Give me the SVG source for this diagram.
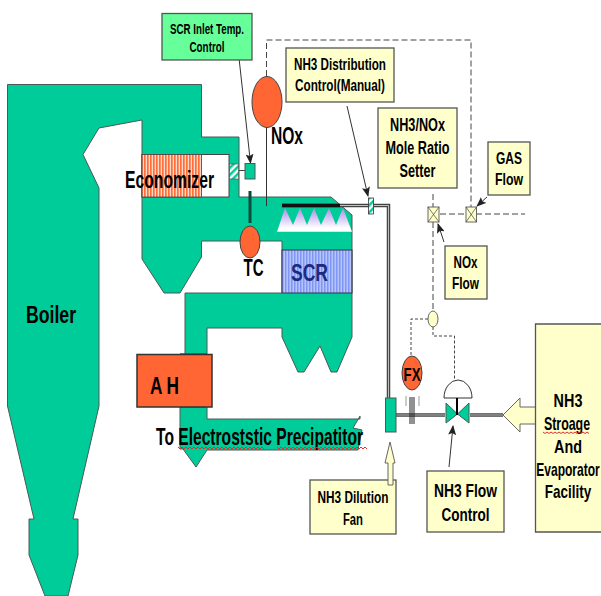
<svg xmlns="http://www.w3.org/2000/svg" width="601" height="596" viewBox="0 0 601 596">
<style>
.t{font-family:"Liberation Sans",Arial,sans-serif;font-weight:bold;fill:#000;text-anchor:middle}
.g{fill:#00cc99;stroke:#4a5a55;stroke-width:1}
.y{fill:#ffffcc;stroke:#555;stroke-width:1.3}
.o{fill:#ff6633;stroke:#444;stroke-width:1}
.d{fill:none;stroke:#444;stroke-width:1;stroke-dasharray:6 3}
.a{fill:none;stroke:#333;stroke-width:1;marker-end:url(#ah)}
.p{fill:none;stroke:#444;stroke-width:3.500}
.pi{fill:none;stroke:#ddd;stroke-width:.8}
.w{fill:none;stroke:#e03030;stroke-width:1}
.v{fill:#ffffcc;stroke:#666;stroke-width:1}
.x{fill:none;stroke:#444;stroke-width:.7}
</style>
<defs>
<marker id="ah" markerWidth="10" markerHeight="8" refX="9" refY="4" orient="auto" markerUnits="userSpaceOnUse"><path d="M0 0L10 4L0 8L2 4Z" fill="#222"/></marker>
<pattern id="orange" width="3" height="10" patternUnits="userSpaceOnUse"><rect width="3" height="10" fill="#ffd9c8"/><rect width="1.7" height="10" fill="#ff6f3c"/></pattern>
<pattern id="blue" width="3" height="10" patternUnits="userSpaceOnUse"><rect width="3" height="10" fill="#b5c4ff"/><rect width="1.5" height="10" fill="#7f97f2"/></pattern>
<pattern id="hatch" width="5" height="5" patternUnits="userSpaceOnUse" patternTransform="rotate(45)"><rect width="5" height="5" fill="#fff"/><rect width="2.5" height="5" fill="#00cc99"/></pattern>
<linearGradient id="cat" x1="0" y1="0" x2="0" y2="1"><stop offset="0" stop-color="#a98ce8"/><stop offset=".85" stop-color="#fff"/></linearGradient>
</defs>

<g id="boiler">
<path class="g" d="M7.500 84.500H201.500V137H239V197H331L352 215V337L337 372H331L320 346L304 372H298L282 337V328H207V354H180V354H207V419H360V416L353 428L362 430L358 450H207L196 467L183 449H180V407H207V354H185V293H282V241H201.500V257L180 293H164L142 259V120L99 128L83 154.500L99 188V406L73 519H78V555L68 596H45L29 555V519H34L7.500 406Z"/>
<text class="t" x="51" y="323" font-size="24" textLength="50" lengthAdjust="spacingAndGlyphs">Boiler</text>
</g>

<g id="economizer">
<rect x="142" y="154.500" width="87" height="42.500" fill="#fff" stroke="#444"/>
<rect x="142" y="154.500" width="59.500" height="42.500" fill="url(#orange)" stroke="#444" stroke-width=".8"/>
<text class="t" x="169.500" y="188" font-size="23" textLength="89" lengthAdjust="spacingAndGlyphs">Economizer</text>
</g>

<g id="scr">
<rect x="282" y="250" width="70" height="43" fill="url(#blue)" stroke="#334" stroke-width="1"/>
<text class="t" x="309.500" y="281" font-size="24" style="fill:#1a2a80" textLength="37" lengthAdjust="spacingAndGlyphs">SCR</text>
</g>

<g id="catalyst">
<path fill="url(#cat)" d="M277 231.700L285 208L293 225L300 208L307 225L314 208L321 225L329 208L336 225L343 208L352 231.700Z"/>
</g>

<g id="connectors">
<path class="d" d="M266.500 76V40H471V207"/>
<path class="d" d="M440 214H466M476 214H525"/>
<path class="d" d="M433 194V207M433 222V311"/>
<path class="d" style="stroke-dasharray:3 2" d="M428 319H411V357"/>
<path class="d" style="stroke-dasharray:3 2" d="M433 327V336H454.500V380"/>
<path d="M266.500 127V206" stroke="#333" stroke-width="1" fill="none"/>
<path d="M239 170.500H245" stroke="#444" fill="none"/>
<path d="M250 191V223" stroke="#0b4a3c" stroke-width="3" fill="none"/>
<path class="p" d="M282 205.500H388.500V398"/>
<path d="M282 205.500H340" fill="none" stroke="#111" stroke-width="3.500"/>
<path class="pi" d="M340 205.500H388.500V398"/>
<path class="p" d="M396 415H445M470 415H503"/>
<path class="pi" d="M396 415H445M470 415H503"/>
<path d="M410 397V424M412 397V424M414 397V424" stroke="#222" stroke-width="1" fill="none"/>
<path d="M406 396V406M419 396V406" stroke="#999" stroke-width="1" fill="none"/>
<path class="a" d="M239 58L250.500 163"/>
<path class="a" d="M347 106L368 196"/>
<path class="a" d="M487 197L477 206"/>
<path class="a" d="M444 242L438 224"/>
<path class="a" d="M449 467L453 426"/>
</g>

<g id="inlet-damper">
<rect x="229.500" y="164" width="9" height="15" fill="url(#hatch)" stroke="#555" stroke-width=".7"/>
<rect x="245" y="163.500" width="10" height="15.500" class="g"/>
</g>
<g id="nh3-damper"><rect x="368.500" y="198" width="5" height="16" fill="url(#hatch)" stroke="#333" stroke-width=".8"/></g>

<g id="nox-sensor">
<ellipse class="o" cx="267" cy="102" rx="15" ry="25.500"/>
<text class="t" x="287" y="144" font-size="23" textLength="32" lengthAdjust="spacingAndGlyphs">NOx</text>
</g>
<g id="tc-sensor">
<ellipse class="o" cx="250" cy="242" rx="10" ry="16"/>
<text class="t" x="253.500" y="276" font-size="23" textLength="20" lengthAdjust="spacingAndGlyphs">TC</text>
</g>
<g id="air-heater">
<rect x="137" y="354.500" width="75" height="52.500" class="o" style="stroke:#333;stroke-width:1.500"/>
<text class="t" x="164.500" y="394" font-size="24" textLength="29" lengthAdjust="spacingAndGlyphs">A H</text>
</g>
<g id="precipitator-label">
<text class="t" x="259.500" y="445" font-size="23" textLength="207" lengthAdjust="spacingAndGlyphs">To Electroststic Precipatitor</text>
<path class="w" d="M178 447l2 2 2-2 2 2 2-2 2 2 2-2 2 2 2-2 2 2 2-2 2 2 2-2 2 2 2-2 2 2 2-2 2 2 2-2 2 2 2-2 2 2 2-2 2 2 2-2 2 2 2-2 2 2 2-2 2 2 2-2 2 2 2-2 2 2 2-2 2 2 2-2 2 2 2-2 2 2 2-2 2 2 2-2 2 2"/>
<path class="w" d="M277 447l2 2 2-2 2 2 2-2 2 2 2-2 2 2 2-2 2 2 2-2 2 2 2-2 2 2 2-2 2 2 2-2 2 2 2-2 2 2 2-2 2 2 2-2 2 2 2-2 2 2 2-2 2 2 2-2 2 2 2-2 2 2 2-2 2 2 2-2 2 2 2-2 2 2 2-2 2 2 2-2 2 2 2-2 2 2 2-2 2 2"/>
</g>

<g id="scr-inlet-control">
<rect x="162" y="13.500" width="90" height="46.500" fill="#66ff99" stroke="#555" stroke-width="1.300"/>
<text class="t" x="207" y="34" font-size="15" textLength="74" lengthAdjust="spacingAndGlyphs">SCR Inlet Temp.</text>
<text class="t" x="207" y="52" font-size="15" textLength="35" lengthAdjust="spacingAndGlyphs">Control</text>
</g>
<g id="nh3-distribution">
<rect class="y" x="286" y="48" width="108" height="54"/>
<text class="t" x="340" y="70" font-size="17" textLength="92" lengthAdjust="spacingAndGlyphs">NH3 Distribution</text>
<text class="t" x="340" y="91" font-size="17" textLength="90" lengthAdjust="spacingAndGlyphs">Control(Manual)</text>
</g>
<g id="mole-ratio">
<rect class="y" x="378" y="108" width="79" height="80"/>
<text class="t" x="417.500" y="131" font-size="18" textLength="55" lengthAdjust="spacingAndGlyphs">NH3/NOx</text>
<text class="t" x="417.500" y="154" font-size="18" textLength="64" lengthAdjust="spacingAndGlyphs">Mole Ratio</text>
<text class="t" x="417.500" y="177" font-size="18" textLength="36" lengthAdjust="spacingAndGlyphs">Setter</text>
</g>
<g id="gas-flow">
<rect class="y" x="488" y="142" width="42" height="53"/>
<text class="t" x="509" y="164" font-size="17" textLength="26" lengthAdjust="spacingAndGlyphs">GAS</text>
<text class="t" x="509" y="185" font-size="17" textLength="28" lengthAdjust="spacingAndGlyphs">Flow</text>
</g>
<g id="nox-flow">
<rect class="y" x="445" y="246" width="42" height="53"/>
<text class="t" x="465.500" y="268" font-size="17" textLength="24" lengthAdjust="spacingAndGlyphs">NOx</text>
<text class="t" x="465.500" y="289" font-size="17" textLength="27" lengthAdjust="spacingAndGlyphs">Flow</text>
</g>
<g id="multiplier-nox">
<rect class="v" x="428" y="207" width="11" height="15"/>
<path class="x" d="M428 207L439 222M439 207L428 222"/>
</g>
<g id="multiplier-gas">
<rect class="v" x="466" y="207" width="10.500" height="15"/>
<path class="x" d="M466 207L476.500 222M476.500 207L466 222"/>
</g>
<g id="controller"><ellipse class="v" cx="433" cy="319" rx="5" ry="8"/></g>
<g id="fx-sensor">
<ellipse class="o" cx="412" cy="373" rx="10" ry="17"/>
<text class="t" x="412" y="381" font-size="19" textLength="17" lengthAdjust="spacingAndGlyphs">FX</text>
</g>
<g id="valve">
<path d="M444 398A14 18 0 0 1 472 398Z" fill="#fff" stroke="#333"/>
<path d="M446 403L457.500 414L446 423Z" class="g"/>
<path d="M469 403L457.500 414L469 423Z" class="g"/>
<path d="M457 398V415" stroke="#000" stroke-width="2" fill="none"/>
</g>
<g id="dilution-damper"><rect x="385.500" y="398" width="10.500" height="34" class="g"/></g>
<g id="dilution-fan">
<rect class="y" x="310" y="480" width="86" height="54"/>
<path d="M390 442L395 463H393V485H388V463H385Z" class="v"/>
<text class="t" x="353" y="503" font-size="16" textLength="71" lengthAdjust="spacingAndGlyphs">NH3 Dilution</text>
<text class="t" x="353" y="525" font-size="16" textLength="20" lengthAdjust="spacingAndGlyphs">Fan</text>
</g>
<g id="flow-control">
<rect class="y" x="427" y="471" width="77" height="61"/>
<text class="t" x="465.500" y="497" font-size="18" textLength="63" lengthAdjust="spacingAndGlyphs">NH3 Flow</text>
<text class="t" x="465.500" y="521" font-size="18" textLength="48" lengthAdjust="spacingAndGlyphs">Control</text>
</g>
<g id="storage">
<path d="M503 415L520 398V407H536V424H520V432Z" class="v" stroke-width="1.300"/>
<path class="y" d="M601 324H535.500V532H601"/>
<text class="t" transform="translate(568 407) scale(.8 1)" font-size="18">NH3</text>
<text class="t" transform="translate(567 430) scale(.69 1)" font-size="18">Stroage</text>
<text class="t" transform="translate(568 453) scale(.8 1)" font-size="18">And</text>
<text class="t" transform="translate(568 476) scale(.67 1)" font-size="18">Evaporator</text>
<text class="t" transform="translate(568 498) scale(.75 1)" font-size="18">Facility</text>
<path class="w" d="M543 432l2 1.500 2-1.500 2 1.500 2-1.500 2 1.500 2-1.500 2 1.500 2-1.500 2 1.500 2-1.500 2 1.500 2-1.500 2 1.500 2-1.500 2 1.500 2-1.500 2 1.500 2-1.500 2 1.500 2-1.500 2 1.500 2-1.500 2 1.500"/>
</g>
</svg>
